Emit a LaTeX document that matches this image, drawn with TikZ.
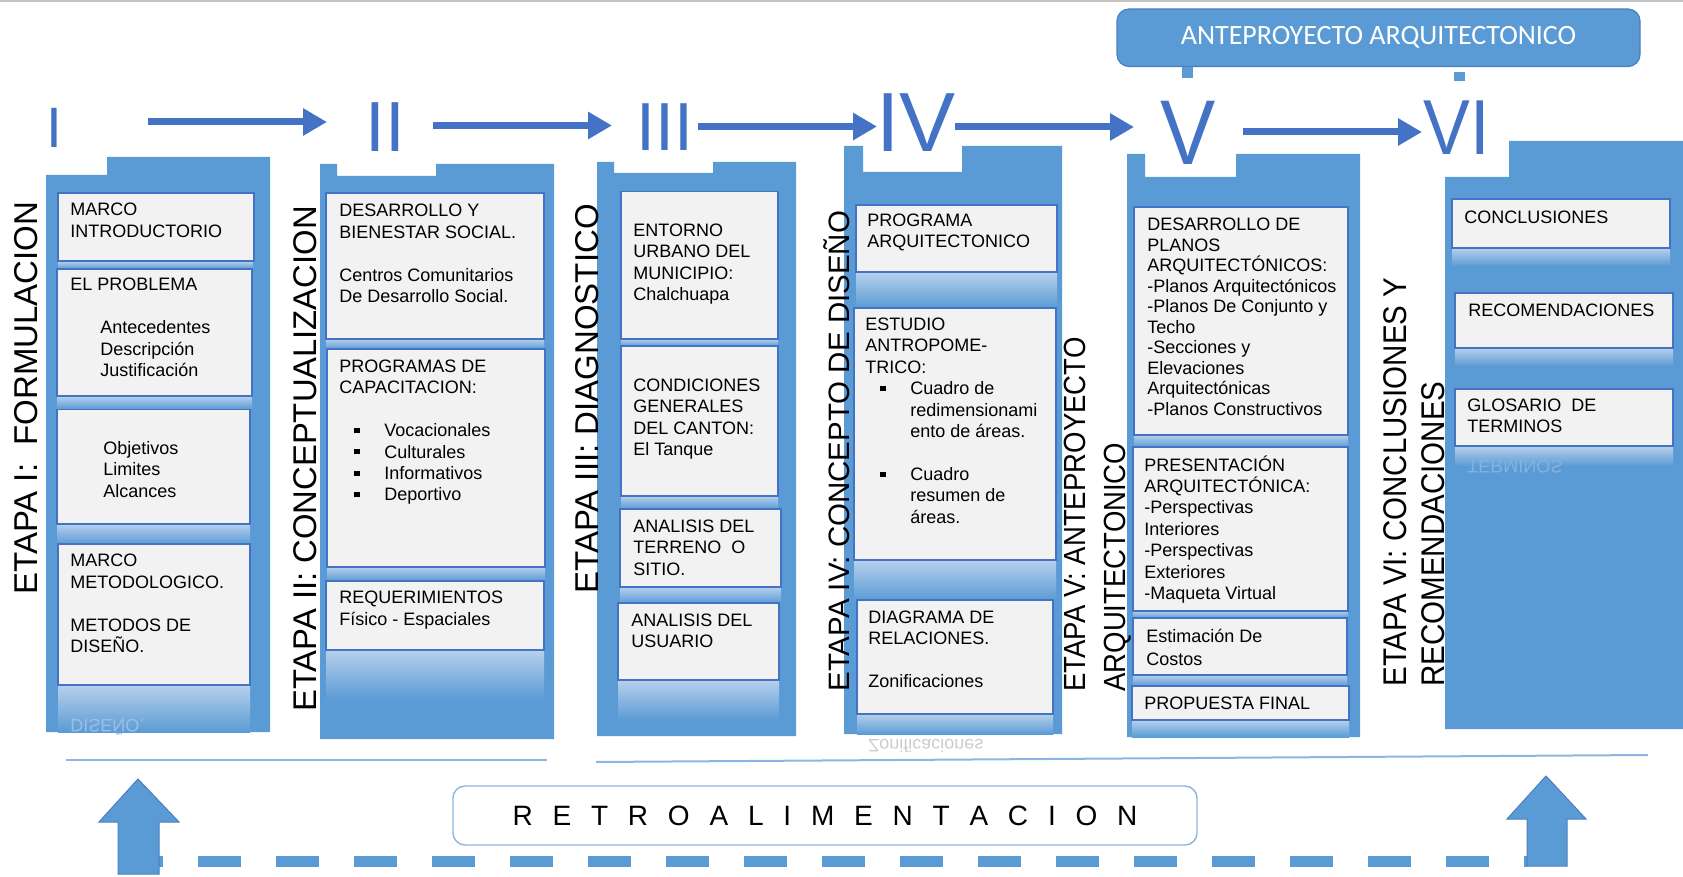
\documentclass[tikz,border=0pt]{standalone}
\usepackage{fontspec}
\setmainfont{Liberation Sans}
\newfontfamily\narrowsf[FakeStretch=0.9]{Liberation Sans}
\newfontfamily\carlito{Carlito}
\usepackage{xcolor}
\usepackage{tikz}
\usetikzlibrary{arrows.meta, shadings}

\definecolor{colfill}{HTML}{5B9BD5}
\definecolor{numblue}{HTML}{4472C4}
\definecolor{boxfill}{HTML}{F2F2F2}
\definecolor{boxline}{HTML}{4472C4}
\definecolor{refltop}{HTML}{B7D0EC}
\definecolor{lineblue}{HTML}{8DB4E2}
\definecolor{edgeblue}{HTML}{4A7FBF}

\newcommand{\boxfont}{\fontsize{9}{10.7}\selectfont}
\newcommand{\bul}{\hspace*{7.5pt}\rule[1.8pt]{2.6pt}{2.6pt}\hspace*{12.4pt}}
\newcommand{\ind}{\hspace*{22.5pt}}

\tikzset{
    stagecol/.style={fill=colfill},
    itembox/.style={fill=boxfill, draw=boxline, line width=0.7pt},
    refl/.style={top color=refltop, bottom color=colfill},
    txt/.style={anchor=north west, inner sep=0pt, align=left, font=\boxfont, execute at begin node=\strut},
    mirror/.style={anchor=base west, inner sep=0pt, font=\boxfont},
    etapa/.style={rotate=90, anchor=base west, inner sep=0pt},
    numeral/.style={anchor=base, inner sep=0pt, text=numblue},
    flow/.style={numblue, line width=3.5pt, -{Triangle[length=12pt,width=13pt]}},
    stub/.style={colfill, line width=5.5pt},
    banner/.style={fill=colfill, draw=edgeblue, line width=0.6pt, rounded corners=6pt, text=white, font=\carlito\fontsize{14}{16}\selectfont, minimum width=261.5pt, minimum height=28.75pt},
    retrobox/.style={fill=white, draw=lineblue, line width=0.7pt, rounded corners=6pt, minimum width=372pt, minimum height=29.5pt, inner sep=0pt, font=\fontsize{14}{16}\selectfont},
    fbarrow/.style={fill=colfill, draw=edgeblue, line width=0.5pt},
    fbdash/.style={colfill, line width=5.5pt, dash pattern=on 21.5pt off 17.5pt, dash phase=19.5pt},
    baseline rule/.style={lineblue, line width=1pt}
}

\begin{document}
\begin{tikzpicture}[x=0.5pt, y=-0.5pt]
        \useasboundingbox (0,0) rectangle (1683,877);
        \draw[gray!45, line width=0.8pt] (0,1) -- (1683,1);

        % banner
        \node[banner] (banner) at (1378.5,37.75) {ANTEPROYECTO ARQUITECTONICO};
        \coordinate (stubV) at (1187.5,78);
        \coordinate (stubVI) at (1459.5,81);
        \draw[stub] (banner.south -| stubV) -- (stubV);
        \draw[stub] ([yshift=-2.5pt]banner.south -| stubVI) -- (stubVI);

        % columns
        \fill[stagecol] (46,175) -- (107,175) -- (107,157) -- (270,157) -- (270,732) -- (46,732) -- cycle;
        \fill[stagecol] (320,164) -- (337,164) -- (337,176) -- (436,176) -- (436,164) -- (554,164) -- (554,739) -- (320,739) -- cycle;
        \fill[stagecol] (597,162) -- (614,162) -- (614,173) -- (713,173) -- (713,162) -- (796,162) -- (796,736) -- (597,736) -- cycle;
        \fill[stagecol] (844,146) -- (863,146) -- (863,172) -- (962,172) -- (962,146) -- (1062,146) -- (1062,734) -- (844,734) -- cycle;
        \fill[stagecol] (1127,154) -- (1145,154) -- (1145,177) -- (1236,177) -- (1236,154) -- (1360,154) -- (1360,737) -- (1127,737) -- cycle;
        \fill[stagecol] (1445,177) -- (1509,177) -- (1509,141) -- (1683,141) -- (1683,729) -- (1445,729) -- cycle;

        % numerals
        \node[numeral, font=\fontsize{28.5}{30}\selectfont] (I) at (54,148) {I};
        \node[numeral, font=\fontsize{35.5}{38}\selectfont] (II) at (385.5,152) {II};
        \node[numeral, font=\fontsize{34}{36}\selectfont] (III) at (665,151) {III};
        \node[numeral, font=\fontsize{42}{44}\selectfont] (IV) at (916,151.5) {IV};
        \node[numeral, font=\narrowsf\fontsize{46}{48}\selectfont] (V) at (1188,165) {V};
        \node[numeral, font=\narrowsf\fontsize{39}{41}\selectfont] (VI) at (1457,155) {VI};

        \coordinate (s1) at (148,122);   \coordinate (t1) at (327,122);
        \coordinate (s2) at (433,125.5); \coordinate (t2) at (612,125.5);
        \coordinate (s3) at (698,126.5); \coordinate (t3) at (877,126.5);
        \coordinate (s4) at (955,127);   \coordinate (t4) at (1134,127);
        \coordinate (s5) at (1243,132);  \coordinate (t5) at (1422,132);
        \foreach \i in {1,...,5}
            \draw[flow] (s\i) -- (t\i);

        % etapas
        \node[etapa, font=\fontsize{16.5}{18}\selectfont] (etapa1) at (37,595) {ETAPA I:~ FORMULACION};
        \node[etapa, font=\fontsize{16.4}{18}\selectfont] (etapa2) at (316,712) {ETAPA II: CONCEPTUALIZACION};
        \node[etapa, font=\fontsize{16.5}{18}\selectfont] (etapa3) at (598,594) {ETAPA III: DIAGNOSTICO};
        \node[etapa, font=\fontsize{14.75}{16}\selectfont] (etapa4) at (849,692) {ETAPA IV: CONCEPTO DE DISEÑO};
        \node[etapa, font=\narrowsf\fontsize{15.3}{17}\selectfont] (etapa5a) at (1085,692) {ETAPA V: ANTEPROYECTO};
        \node[etapa, font=\narrowsf\fontsize{15.3}{17}\selectfont] (etapa5b) at (1125,692) {ARQUITECTONICO};
        \node[etapa, font=\narrowsf\fontsize{16.4}{18}\selectfont] (etapa6a) at (1406,687) {ETAPA VI: CONCLUSIONES Y};
        \node[etapa, font=\narrowsf\fontsize{16.4}{18}\selectfont] (etapa6b) at (1444,687) {RECOMENDACIONES};

        % etapa I
        \shade[refl] (58,261) rectangle (253,269);
        \shade[refl] (57,396) rectangle (252,409);
        \shade[refl] (57,524) rectangle (250,544);
        \shade[refl] (58,685) rectangle (250,732);
        \draw[itembox] (58,193) rectangle (254,261);
        \draw[itembox] (57,269) rectangle (252,396);
        \draw[itembox] (57,409.5) rectangle (250,524);
        \draw[itembox] (58,544) rectangle (250,685);
        \node[txt] (marco) at (70,203) {MARCO\\INTRODUCTORIO};
        \node[txt] (problema) at (70,278) {EL PROBLEMA\\[10.7pt]\hspace*{15pt}Antecedentes\\\hspace*{15pt}Descripción\\\hspace*{15pt}Justificación};
        \node[txt] (objetivos) at (103,441) {Objetivos\\Limites\\Alcances};
        \node[txt] (metodo) at (70,554) {MARCO\\METODOLOGICO.\\[10.7pt]METODOS DE\\DISEÑO.};
        \node[mirror, text=refltop!70!colfill] (reflI) at (70,719) {\scalebox{1}[-1]{DISEÑO.}};

        % etapa II
        \shade[refl] (326,339) rectangle (544,349);
        \shade[refl] (327,567) rectangle (545,581);
        \shade[refl] (326,650) rectangle (544,700);
        \draw[itembox] (326,193) rectangle (544,339);
        \draw[itembox] (327,349) rectangle (545,567);
        \draw[itembox] (326,581) rectangle (544,650);
        \node[txt] (desarrollo) at (339,204) {DESARROLLO Y\\BIENESTAR SOCIAL.\\[10.7pt]Centros Comunitarios\\De Desarrollo Social.};
        \node[txt] (programas) at (339,359.5) {PROGRAMAS DE\\CAPACITACION:\\[10.7pt]\bul Vocacionales\\\bul Culturales\\\bul Informativos\\\bul Deportivo};
        \node[txt] (requer) at (339,591) {REQUERIMIENTOS\\Físico - Espaciales};

        % etapa III
        \shade[refl] (621,339) rectangle (778,346);
        \shade[refl] (621,496) rectangle (778,509);
        \shade[refl] (620,587) rectangle (781,603);
        \shade[refl] (618,680) rectangle (779,720);
        \draw[itembox] (621,191.5) rectangle (778,339);
        \draw[itembox] (621,346) rectangle (778,496);
        \draw[itembox] (620,509) rectangle (781,587);
        \draw[itembox] (618,603) rectangle (779,680);
        \node[txt] (entorno) at (633,223.5) {ENTORNO\\URBANO DEL\\MUNICIPIO:\\Chalchuapa};
        \node[txt] (condiciones) at (633,378.6) {CONDICIONES\\GENERALES\\DEL CANTON:\\El Tanque};
        \node[txt] (terreno) at (633,519.5) {ANALISIS DEL\\TERRENO~ O\\SITIO.};
        \node[txt] (usuario) at (631,613.6) {ANALISIS DEL\\USUARIO};

        % etapa IV
        \shade[refl] (856,272) rectangle (1057,308);
        \shade[refl] (854,560) rectangle (1056,600);
        \shade[refl] (857,714) rectangle (1053,734);
        \draw[itembox] (856,205) rectangle (1057,272);
        \draw[itembox] (854,308) rectangle (1056,560);
        \draw[itembox] (857,600) rectangle (1053,714);
        \node[txt] (programa) at (867,213.5) {PROGRAMA\\ARQUITECTONICO};
        \node[txt] (estudio) at (865,317.6) {ESTUDIO\\ANTROPOME-\\TRICO:\\\bul Cuadro de\\\ind redimensionami\\\ind ento de áreas.\\[10.7pt]\bul Cuadro\\\ind resumen de\\\ind áreas.};
        \node[txt] (diagrama) at (868,610.6) {DIAGRAMA DE\\RELACIONES.\\[10.7pt]Zonificaciones};
        \node[mirror, text=gray!40] (reflIV) at (868,739.5) {\scalebox{1}[-1]{Zonificaciones}};

        % etapa V
        \shade[refl] (1134,435) rectangle (1348,447);
        \shade[refl] (1133,611) rectangle (1348,618);
        \shade[refl] (1133,675) rectangle (1347,686);
        \shade[refl] (1132,720) rectangle (1349,737);
        \draw[itembox] (1134,207) rectangle (1348,435);
        \draw[itembox] (1133,447) rectangle (1348,611);
        \draw[itembox] (1133,618) rectangle (1347,675);
        \draw[itembox] (1132,686) rectangle (1349,720);
        \node[txt, font=\fontsize{9}{10.25}\selectfont] (planos) at (1147,217.6) {DESARROLLO DE\\PLANOS\\ARQUITECTÓNICOS:\\-Planos Arquitectónicos\\-Planos De Conjunto y\\Techo\\-Secciones y\\Elevaciones\\Arquitectónicas\\-Planos Constructivos};
        \node[txt] (presentacion) at (1144,455) {PRESENTACIÓN\\ARQUITECTÓNICA:\\-Perspectivas\\Interiores\\-Perspectivas\\Exteriores\\-Maqueta Virtual};
        \node[txt] (costos) at (1146,628.5) {Estimación De\\[1.1pt]Costos};
        \node[txt] (final) at (1144,694.5) {PROPUESTA FINAL};

        % etapa VI
        \shade[refl] (1452,248) rectangle (1670,266);
        \shade[refl] (1455,348) rectangle (1673,366);
        \shade[refl] (1455,446) rectangle (1673,466);
        \draw[itembox] (1452,199) rectangle (1670,248);
        \draw[itembox] (1455,293) rectangle (1673,348);
        \draw[itembox] (1455,389) rectangle (1673,446);
        \node[txt] (conclusiones) at (1464,208.5) {CONCLUSIONES};
        \node[txt] (recomend) at (1468,301.5) {RECOMENDACIONES};
        \node[txt] (glosario) at (1467,398.5) {GLOSARIO~ DE\\TERMINOS};
        \node[mirror, text=refltop!45!colfill] (reflVI) at (1467,460) {\scalebox{1}[-1]{TERMINOS}};

        % retroalimentacion
        \draw[baseline rule] (66,760) -- (547,760);
        \draw[baseline rule] (596,762) -- (1648,755);
        \node[retrobox] (retro) at (825,815.5) {\spaceskip=9.9pt\relax R E T R O A L I M E N T A C I O N};
        \coordinate (fbL) at (159,861);
        \coordinate (fbR) at (1527,861);
        \draw[fbdash] (fbL) -- (fbR);
        \filldraw[fbarrow] (118,874) -- (118,822) -- (99,822) -- (138,779) -- (179,822) -- (159,822) -- (159,874) -- cycle;
        \filldraw[fbarrow] (1527,866) -- (1527,819) -- (1507,819) -- (1546,776) -- (1586,819) -- (1567,819) -- (1567,866) -- cycle;
    \end{tikzpicture}
\end{document}
